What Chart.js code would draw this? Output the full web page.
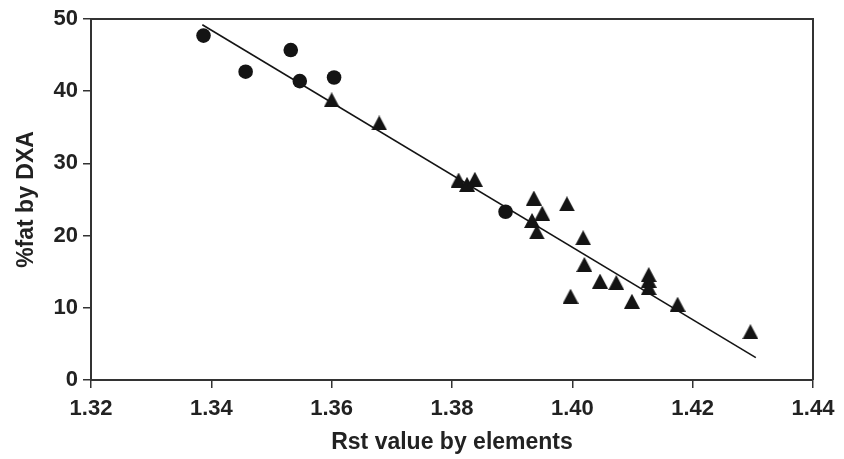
<!DOCTYPE html>
<html>
<head>
<meta charset="utf-8">
<script src="https://cdn.jsdelivr.net/npm/chart.js@4/dist/chart.umd.min.js"></script>
<style>
  html, body { margin: 0; padding: 0; background: #fff; }
  #wrap { width: 844px; height: 459px; position: relative; }
</style>
</head>
<body>
<div id="wrap"><canvas id="c" width="844" height="459"></canvas></div>
<script>
// ---- Data ----
const circleX = [1.3387, 1.3457, 1.3532, 1.3547, 1.3604, 1.3889];
const circleY = [47.7, 42.7, 45.7, 41.4, 41.9, 23.3];

const triangleX = [1.3600, 1.3679, 1.3811, 1.3825, 1.3838, 1.3936, 1.3950, 1.3933, 1.3941,
                   1.3991, 1.4018, 1.4020, 1.3997, 1.4046, 1.4073, 1.4099, 1.4127, 1.4127,
                   1.4127, 1.4175, 1.4296];
const triangleY = [38.8, 35.6, 27.7, 27.1, 27.8, 25.2, 23.1, 22.1, 20.5,
                   24.4, 19.7, 16.0, 11.6, 13.7, 13.5, 10.9, 14.6, 13.8,
                   12.8, 10.5, 6.7];

const fitX = [1.3385, 1.4305];
const fitY = [49.2, 3.1];

const xTickValues = [1.32, 1.34, 1.36, 1.38, 1.40, 1.42, 1.44];
const yTickValues = [0, 10, 20, 30, 40, 50];

const xTitle = 'Rst value by elements';
const yTitle = '%fat by DXA';

// ---- Marker image (triangle centred on its bounding box) ----
function makeTriangle(w, h, color) {
  const cv = document.createElement('canvas');
  cv.width = w; cv.height = h;
  const g = cv.getContext('2d');
  g.fillStyle = color;
  g.beginPath();
  g.moveTo(w / 2, 0);
  g.lineTo(w, h);
  g.lineTo(0, h);
  g.closePath();
  g.fill();
  return cv;
}
const triImg = makeTriangle(16, 15, '#141414');

const zip = (xs, ys) => xs.map((x, i) => ({ x: x, y: ys[i] }));

const framePlugin = {
  id: 'frame',
  afterDatasetsDraw(chart) {
    const a = chart.chartArea, ctx = chart.ctx;
    ctx.save();
    ctx.strokeStyle = '#333';
    ctx.lineWidth = 2;
    ctx.beginPath();
    ctx.moveTo(a.left, a.top);
    ctx.lineTo(a.right, a.top);
    ctx.lineTo(a.right, a.bottom);
    ctx.stroke();
    ctx.restore();
  }
};

const tickFont = { family: '"Liberation Sans", Arial, sans-serif', size: 22, weight: 'bold' };
const titleFont = { family: '"Liberation Sans", Arial, sans-serif', size: 23, weight: 'bold' };

new Chart(document.getElementById('c'), {
  type: 'scatter',
  data: {
    datasets: [
      {
        type: 'line',
        label: 'fit',
        data: zip(fitX, fitY),
        borderColor: '#141414',
        borderWidth: 1.6,
        pointRadius: 0,
        fill: false,
        order: 3
      },
      {
        label: 'circles',
        data: zip(circleX, circleY),
        pointStyle: 'circle',
        pointRadius: 7.3,
        backgroundColor: '#141414',
        borderColor: '#141414',
        borderWidth: 0,
        order: 1
      },
      {
        label: 'triangles',
        data: zip(triangleX, triangleY),
        pointStyle: triImg,
        pointRadius: 8,
        backgroundColor: '#141414',
        borderColor: '#141414',
        order: 2
      }
    ]
  },
  options: {
    responsive: false,
    animation: false,
    events: [],
    layout: { padding: { left: 0, top: 19, right: 31, bottom: 0 } },
    plugins: { legend: { display: false }, tooltip: { enabled: false } },
    scales: {
      x: {
        type: 'linear',
        min: 1.32, max: 1.44,
        afterBuildTicks: (s) => { s.ticks = xTickValues.map(v => ({ value: v })); },
        afterFit: (s) => { s.height = 79; },
        border: { display: true, color: '#333', width: 2 },
        grid: { drawOnChartArea: false, drawTicks: true, tickLength: 8, color: '#333', lineWidth: 1.5 },
        ticks: {
          color: '#222', font: tickFont, padding: 8, maxRotation: 0, autoSkip: false,
          callback: (v) => v.toFixed(2)
        },
        title: { display: true, text: xTitle, color: '#222', font: titleFont, padding: { top: 0, bottom: 3 } }
      },
      y: {
        type: 'linear',
        min: 0, max: 50,
        afterBuildTicks: (s) => { s.ticks = yTickValues.map(v => ({ value: v })); },
        afterFit: (s) => { s.width = 91; },
        border: { display: true, color: '#333', width: 2 },
        grid: { drawOnChartArea: false, drawTicks: true, tickLength: 8, color: '#333', lineWidth: 1.5 },
        ticks: { color: '#222', font: tickFont, padding: 5, callback: (v) => String(v) },
        title: { display: true, text: yTitle, color: '#222', font: titleFont, padding: { top: 13, bottom: 0 } }
      }
    }
  },
  plugins: [framePlugin]
});
</script>
</body>
</html>
